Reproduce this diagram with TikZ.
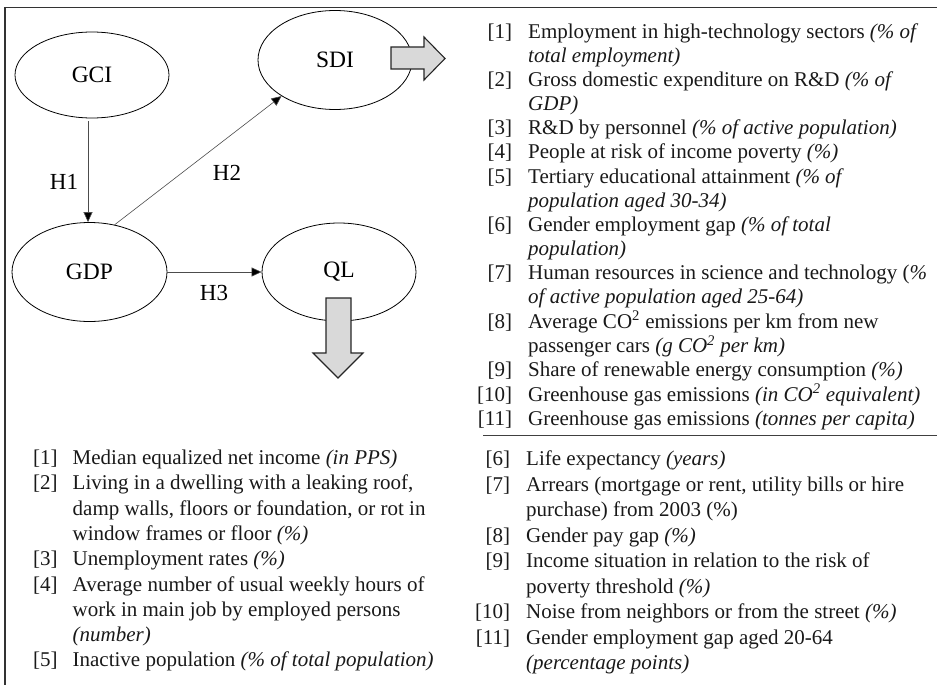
\documentclass[tikz,border=0pt]{standalone}
\usepackage{fontspec}
\setmainfont{Liberation Serif}
\usetikzlibrary{shapes.geometric,arrows.meta}
\newcommand{\nmb}[1]{[#1]}
\begin{document}
\begin{tikzpicture}[x=1pt,y=-1pt,
  ell/.style={draw=black,line width=0.8pt,ellipse,inner sep=0pt,font=\fontsize{23.5}{26}\selectfont},
  arr/.style={draw=black!70,line width=0.6pt,-{Triangle[length=10pt,width=9pt,fill=black]}},
  lbl/.style={font=\fontsize{23}{26}\selectfont,inner sep=0pt},
  blockarr/.style={draw=black!85,fill=black!15,line width=1.1pt,line join=miter},
  frame/.style={draw=black!80,line width=1.4pt},
  listtxt/.style={inner sep=0pt,anchor=base west,text=black!90}]
\useasboundingbox (0,0) rectangle (937,685);
\draw[frame] (5,685) -- (5,7.3) -- (937,7.3);
% ellipses
\node[ell,minimum width=154pt,minimum height=86pt] (gci) at (92,75) {GCI};
\node[ell,minimum width=154pt,minimum height=99pt] (sdi) at (335,60) {SDI};
\node[ell,minimum width=155pt,minimum height=99pt] (gdp) at (89.5,272) {GDP};
\node[ell,minimum width=154pt,minimum height=98pt] (ql) at (339,272) {QL};
% connectors
\draw[arr] ([yshift=-3pt]gci.south -| 88,0) -- (gdp.north -| 88,0);
\draw[arr] (gdp.62) -- (sdi.214);
\draw[arr] (gdp.east) -- (ql.west);
\node[lbl] (h1) at (64,182) {H1};
\node[lbl] (h2) at (227,173) {H2};
\node[lbl] (h3) at (214,293) {H3};
% block arrows
\draw[blockarr] (391,47) -- (424,47) -- (424,37) -- (445,58.5) -- (424,80) -- (424,69) -- (391,69) -- cycle;
\draw[blockarr] (326,298) -- (351,298) -- (351,353) -- (363,353) -- (338,378) -- (313,353) -- (326,353) -- cycle;
% separator
\draw[draw=black!75,line width=1pt] (483,435) -- (937,435);
% lists
\node[listtxt] (sdilist) at (477,38.5) {\fontsize{21}{24.1}\selectfont
\begin{tabular}[t]{@{}r@{\hspace{16pt}}l@{}}
\nmb{1} & Employment in high-technology sectors \textit{(\% of}\\
 & \textit{total employment)}\\
\nmb{2} & Gross domestic expenditure on R\&D \textit{(\% of}\\
 & \textit{GDP)}\\
\nmb{3} & R\&D by personnel \textit{(\% of active population)}\\
\nmb{4} & People at risk of income poverty \textit{(\%)}\\
\nmb{5} & Tertiary educational attainment \textit{(\% of}\\
 & \textit{population aged 30-34)}\\
\nmb{6} & Gender employment gap \textit{(\% of total}\\
 & \textit{population)}\\
\nmb{7} & Human resources in science and technology (\textit{\%}\\
 & \textit{of active population aged 25-64)}\\
\nmb{8} & Average CO\textsuperscript{2} emissions per km from new\\
 & passenger cars \textit{(g CO\textsuperscript{2} per km)}\\
\nmb{9} & Share of renewable energy consumption \textit{(\%)}\\
\nmb{10} & Greenhouse gas emissions \textit{(in CO\textsuperscript{2} equivalent)}\\
\nmb{11} & Greenhouse gas emissions \textit{(tonnes per capita)}
\end{tabular}};
\node[listtxt] (ldlist) at (33,464.5) {\fontsize{21}{25.3}\selectfont
\begin{tabular}[t]{@{}r@{\hspace{15pt}}l@{}}
\nmb{1} & Median equalized net income \textit{(in PPS)}\\
\nmb{2} & Living in a dwelling with a leaking roof,\\
 & damp walls, floors or foundation, or rot in\\
 & window frames or floor \textit{(\%)}\\
\nmb{3} & Unemployment rates \textit{(\%)}\\
\nmb{4} & Average number of usual weekly hours of\\
 & work in main job by employed persons\\
 & \textit{(number)}\\
\nmb{5} & Inactive population \textit{(\% of total population)}
\end{tabular}};
\node[listtxt] (rdlist) at (475,465.5) {\fontsize{21}{25.5}\selectfont
\begin{tabular}[t]{@{}r@{\hspace{16pt}}l@{}}
\nmb{6} & Life expectancy \textit{(years)}\\
\nmb{7} & Arrears (mortgage or rent, utility bills or hire\\
 & purchase) from 2003 (\%)\\
\nmb{8} & Gender pay gap \textit{(\%)}\\
\nmb{9} & Income situation in relation to the risk of\\
 & poverty threshold \textit{(\%)}\\
\nmb{10} & Noise from neighbors or from the street \textit{(\%)}\\
\nmb{11} & Gender employment gap aged 20-64\\
 & \textit{(percentage points)}
\end{tabular}};
\end{tikzpicture}
\end{document}
